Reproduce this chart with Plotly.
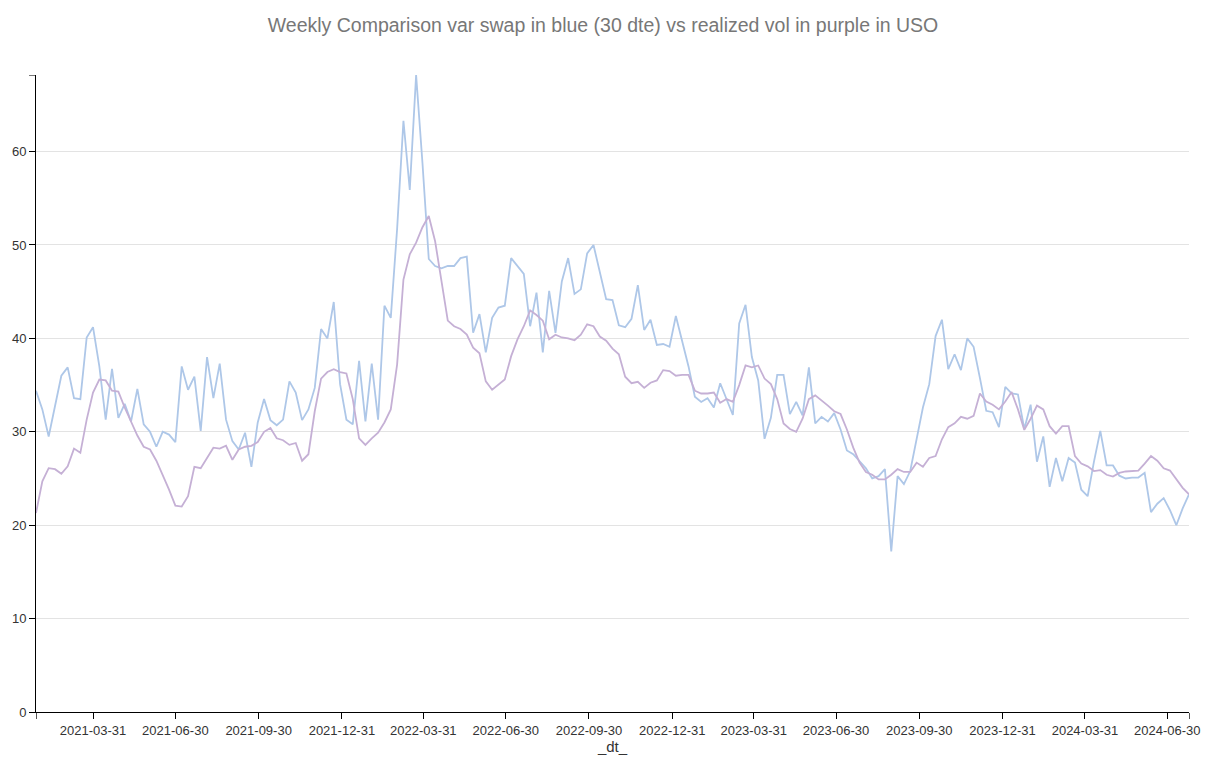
import pandas as pd
import plotly.graph_objects as go

start_date = "2021-01-27"
n_weeks = 183

var_swap = [34.4, 32.4, 29.5, 32.75, 36.0, 36.9, 33.6, 33.5, 40.1, 41.2,
            37.0, 31.3, 36.75, 31.5, 33.0, 31.1, 34.6, 30.8, 30.0, 28.4,
            30.0, 29.7, 28.9, 37.0, 34.5, 35.9, 30.1, 38.0, 33.6, 37.3,
            31.3, 29.0, 28.1, 29.9, 26.25, 31.0, 33.5, 31.25, 30.7, 31.3,
            35.4, 34.2, 31.25, 32.4, 34.7, 41.0, 40.0, 43.9, 35.1, 31.3,
            30.8, 37.6, 31.1, 37.3, 31.3, 43.5, 42.2, 51.7, 63.3, 55.9,
            68.2, 58.8, 48.5, 47.75, 47.5, 47.75, 47.75, 48.6, 48.75, 40.6,
            42.6, 38.5, 42.2, 43.3, 43.5, 48.6, 47.75, 46.9, 41.3, 44.9,
            38.5, 45.1, 40.6, 46.1, 48.6, 44.75, 45.25, 49.1, 50.0, 47.0,
            44.2, 44.1, 41.4, 41.2, 42.1, 45.7, 40.9, 42.0, 39.3, 39.4,
            39.1, 42.4, 39.6, 37.0, 33.75, 33.2, 33.6, 32.6, 35.2, 33.4,
            31.8, 41.6, 43.6, 38.0, 35.5, 29.25, 31.5, 36.1, 36.1, 31.9,
            33.2, 31.75, 36.9, 30.9, 31.6, 31.1, 32.0, 30.25, 28.0, 27.6,
            26.9, 26.1, 25.0, 25.25, 26.0, 17.2, 25.25, 24.4, 25.8, 29.2,
            32.6, 35.1, 40.25, 42.0, 36.7, 38.3, 36.6, 40.0, 39.1, 35.75,
            32.25, 32.1, 30.5, 34.8, 34.1, 34.0, 30.3, 32.9, 26.8, 29.5,
            24.1, 27.2, 24.7, 27.2, 26.7, 23.8, 23.1, 26.8, 30.1, 26.4,
            26.4, 25.3, 25.0, 25.1, 25.1, 25.6, 21.4, 22.3, 22.9, 21.6,
            20.0, 21.8, 23.3]

realized_vol = [21.3, 24.7, 26.1, 26.0, 25.5, 26.3, 28.2, 27.75, 31.3, 34.2,
                35.6, 35.5, 34.4, 34.3, 32.6, 31.0, 29.6, 28.4, 28.1, 26.9,
                25.4, 23.8, 22.1, 22.0, 23.1, 26.25, 26.1, 27.2, 28.3, 28.2,
                28.5, 27.0, 28.1, 28.4, 28.5, 28.9, 30.0, 30.4, 29.3, 29.1,
                28.6, 28.8, 26.9, 27.6, 32.2, 35.7, 36.4, 36.7, 36.4, 36.25,
                33.5, 29.3, 28.6, 29.3, 29.9, 31.0, 32.4, 37.2, 46.3, 49.0,
                50.25, 51.9, 53.1, 50.4, 46.3, 41.9, 41.3, 41.0, 40.4, 39.0,
                38.4, 35.4, 34.5, 35.1, 35.6, 38.1, 39.9, 41.3, 43.0, 42.5,
                41.9, 39.9, 40.4, 40.1, 40.0, 39.8, 40.4, 41.5, 41.3, 40.2,
                39.75, 38.9, 38.3, 35.9, 35.2, 35.35, 34.7, 35.25, 35.5, 36.6,
                36.5, 36.0, 36.1, 36.1, 34.4, 34.1, 34.1, 34.2, 33.1, 33.5,
                33.2, 35.0, 37.1, 36.9, 37.1, 35.7, 35.1, 33.5, 30.9, 30.3,
                30.0, 31.4, 33.5, 33.9, 33.4, 32.8, 32.2, 31.9, 30.25, 28.3,
                26.7, 25.7, 25.4, 24.9, 24.9, 25.4, 26.0, 25.7, 25.7, 26.7,
                26.25, 27.2, 27.4, 29.2, 30.5, 30.9, 31.6, 31.4, 31.7, 34.1,
                33.25, 32.9, 32.4, 33.25, 34.25, 32.4, 30.2, 31.4, 32.8, 32.4,
                30.6, 29.8, 30.6, 30.6, 27.4, 26.6, 26.3, 25.8, 25.9, 25.4,
                25.2, 25.6, 25.75, 25.8, 25.85, 26.6, 27.4, 26.9, 26.1, 25.85,
                24.9, 24.0, 23.3]

x_tick_labels = ["2021-03-31", "2021-06-30", "2021-09-30", "2021-12-31",
                 "2022-03-31", "2022-06-30", "2022-09-30", "2022-12-31",
                 "2023-03-31", "2023-06-30", "2023-09-30", "2023-12-31",
                 "2024-03-31", "2024-06-30"]
y_tick_values = [0, 10, 20, 30, 40, 50, 60]

dates = pd.date_range(start_date, periods=n_weeks, freq="7D")

fig = go.Figure()
fig.add_trace(go.Scatter(x=dates, y=var_swap, mode="lines",
                         line=dict(color="#aec7e8", width=1.8), name="var swap"))
fig.add_trace(go.Scatter(x=dates, y=realized_vol, mode="lines",
                         line=dict(color="#c5b0d5", width=1.8), name="realized vol"))

ymax = max(max(var_swap), max(realized_vol))
font_family = "Liberation Sans, Arial, Helvetica, sans-serif"

fig.update_layout(
    width=1206, height=764,
    margin=dict(l=36, r=17, t=75, b=52),
    paper_bgcolor="white", plot_bgcolor="white",
    showlegend=False,
    font=dict(family=font_family, size=13, color="#333"),
    title=dict(text="Weekly Comparison var swap in blue (30 dte) vs realized vol in purple in USO",
               x=0.5, xanchor="center", y=1 - 25 / 764, yanchor="middle", yref="container",
               font=dict(family=font_family, size=19.5, color="#777")),
)
fig.update_xaxes(
    type="date", range=[dates[0], dates[-1]], automargin=False,
    tickvals=list(pd.to_datetime(x_tick_labels)), ticktext=x_tick_labels,
    ticks="outside", ticklen=6, tickcolor="black", tickwidth=1,
    showline=True, linecolor="black", linewidth=1,
    showgrid=False, zeroline=False,
    minor=dict(tickvals=[dates[0], dates[-1]], ticks="outside", ticklen=6,
               tickcolor="#555", showgrid=False),
    tickfont=dict(size=13, color="#333"),
    title=dict(text="_dt_", font=dict(size=15, color="#333"), standoff=4),
)
fig.update_yaxes(
    range=[0, ymax], automargin=False,
    tickvals=y_tick_values,
    ticks="outside", ticklen=6, tickcolor="black", tickwidth=1,
    showline=True, linecolor="black", linewidth=1,
    showgrid=True, gridcolor="#e3e3e3", gridwidth=1, zeroline=False,
    minor=dict(tickvals=[ymax], ticks="outside", ticklen=6,
               tickcolor="#777", showgrid=False),
    tickfont=dict(size=13, color="#333"),
)

fig.write_html("out.html", config={"displayModeBar": False},
               post_script="document.body.style.margin='0px';document.body.style.overflow='hidden';")
